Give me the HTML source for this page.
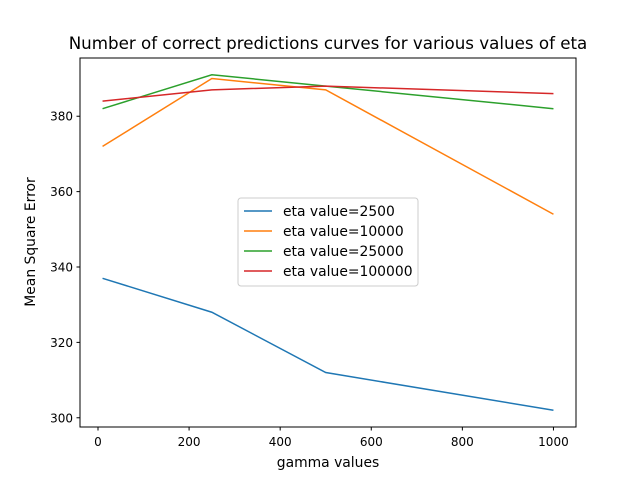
<!DOCTYPE html>
<html><head><meta charset="utf-8"><style>body{margin:0;background:#fff}svg{font-family:"DejaVu Sans","Liberation Sans",sans-serif}</style></head>
<body>
<svg id="chart" width="640" height="480" xmlns="http://www.w3.org/2000/svg">
<rect width="640" height="480" fill="#fff"/>
<text x="328" y="49" font-size="16.7" text-anchor="middle">Number of correct predictions curves for various values of eta</text>
<g id="plot"></g>
<rect x="80" y="58" width="496" height="369" fill="none" stroke="#000" stroke-width="1"/>
<text x="328" y="467" font-size="13.9" text-anchor="middle">gamma values</text>
<text x="35" y="242" font-size="13.9" text-anchor="middle" transform="rotate(-90 35 242)">Mean Square Error</text>
<g id="legend">
<rect x="238" y="198" width="180" height="88" rx="3" fill="#fff" fill-opacity="0.8" stroke="#ccc"/>
</g>
</svg>
<script>
const gammas=[10,250,500,1000];
const seriesNames=["eta value=2500","eta value=10000","eta value=25000","eta value=100000"];
const s2500=[337,328,312,302];
const s10000=[372,390,387,354];
const s25000=[382,391,388,382];
const s100000=[384,387,388,386];
const xTicks=[0,200,400,600,800,1000];
const yTicks=[300,320,340,360,380];
const colors=["#1f77b4","#ff7f0e","#2ca02c","#d62728"];
const series=[s2500,s10000,s25000,s100000];
const NS="http://www.w3.org/2000/svg";
const L=80,R=576,T=58,B=427;
const all=series.flat();
const xmin=Math.min(...gammas),xmax=Math.max(...gammas),xr=xmax-xmin;
const ymin=Math.min(...all),ymax=Math.max(...all),yr=ymax-ymin;
const x0=xmin-0.05*xr,x1=xmax+0.05*xr,y0=ymin-0.05*yr,y1=ymax+0.05*yr;
const X=v=>L+(v-x0)/(x1-x0)*(R-L);
const Y=v=>B-(v-y0)/(y1-y0)*(B-T);
const plot=document.getElementById('plot');
function mk(t,a,p){const e=document.createElementNS(NS,t);for(const k in a)e.setAttribute(k,a[k]);(p||plot).appendChild(e);return e;}
xTicks.forEach(v=>{const x=X(v);
 const t=mk('line',{x1:x,x2:x,y1:B,y2:B+3.5,stroke:'#000'});
 
 
 const l=mk('text',{x:x,y:B+19,'font-size':12,'text-anchor':'middle'});l.textContent=v;
 
 });
yTicks.forEach(v=>{const y=Y(v);
 const t=mk('line',{x1:L-3.5,x2:L,y1:y,y2:y,stroke:'#000'});
 
 
 const l=mk('text',{x:L-7,y:y+4.5,'font-size':12,'text-anchor':'end'});l.textContent=v;
 
 });
series.forEach((s,i)=>{
 const p=mk('polyline',{points:s.map((v,j)=>X(gammas[j])+','+Y(v)).join(' '),fill:'none',stroke:colors[i],'stroke-width':1.5});
 
 
});
const lg=document.getElementById('legend');
seriesNames.forEach((n,i)=>{const y=211+i*20;
 const ln=mk('line',{x1:244,x2:272,y1:y,y2:y,stroke:colors[i],'stroke-width':1.5},lg);
 
 
 const t=mk('text',{x:283,y:y+5,'font-size':13.9},lg);t.textContent=n;
 
 });
</script>
</body></html>
